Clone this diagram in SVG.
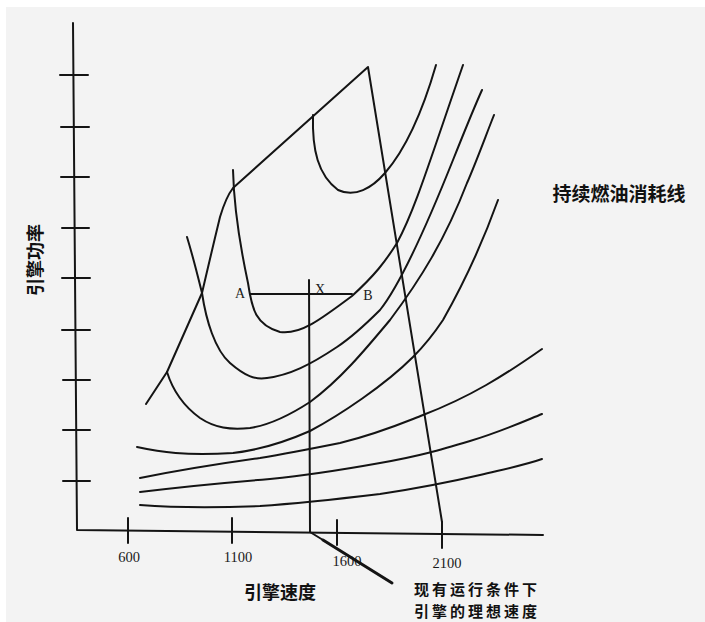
<svg xmlns="http://www.w3.org/2000/svg" width="705" height="622" viewBox="0 0 705 622">
<style>
.ln{fill:none;stroke:#141414;stroke-width:2;stroke-linecap:round;stroke-linejoin:round}
.num{font-family:"Liberation Serif",serif;font-size:14.5px;fill:#1a1a1a;text-anchor:middle}
.lt{font-family:"Liberation Serif",serif;font-size:14px;fill:#1a1a1a;text-anchor:middle}
.cn{font-family:"Noto Sans CJK SC","Noto Sans",sans-serif;font-size:18px;fill:#111;font-weight:bold;text-anchor:middle}
.cs{font-family:"Noto Sans CJK SC","Noto Sans",sans-serif;font-size:15px;letter-spacing:3px;fill:#111;font-weight:bold}
</style>
<rect width="705" height="622" fill="#ffffff"/>
<rect x="6" y="7" width="699" height="615" fill="#f3f3f3"/>
<g id="axes">
<path class="ln" d="M73,23 L77,530 L543,535"/>
<path class="ln" d="M60,75H88 M61,127H89 M61,177H89 M62,228H89 M62,278H90 M62,330H90 M63,380H90 M63,430H90 M63,481H90"/>
<path class="ln" d="M128,518V543 M232,518V543 M337,520V545 M442,522V548"/>
<text class="num" x="129" y="562">600</text>
<text class="num" x="238" y="562">1100</text>
<text class="num" x="347" y="566">1600</text>
<text class="num" x="447" y="568">2100</text>
<text class="cn" x="280" y="599">引擎速度</text>
<text class="cn" transform="translate(42,260) rotate(-90)">引擎功率</text>
</g>
<g id="connectors">
<path class="ln" d="M146,404 L167,372 L202,293 Q212,250 220,217 Q226,197 233,188 L368,67 L442,522"/>
<path class="ln" d="M313,115 C312,150 318,175 338,190 C355,198 372,188 385,173 C405,150 423,110 436,65"/>
<path class="ln" d="M233,170 C234,210 242,255 248,283 C252,310 256,325 280,332 C300,335 320,320 352,296 C375,275 385,262 397,243 C415,210 430,160 463,65"/>
<path class="ln" d="M187,237 C194,260 200,285 202,293 C206,320 215,350 230,363 C245,376 255,380 267,378 C290,375 310,365 337,347 C355,335 370,320 380,310 C400,285 425,230 453,160 C463,135 473,110 482,90"/>
<path class="ln" d="M167,372 C172,388 182,405 200,418 C215,428 230,430 250,428 C270,425 290,415 310,402 C340,380 365,350 390,320 C420,280 445,240 467,183 C477,160 486,135 494,115"/>
<path class="ln" d="M137,447 C160,452 185,456 233,453 C260,450 285,442 310,431 C340,415 385,385 413,357 C425,345 435,332 443,320 C460,290 480,250 498,200"/>
<path class="ln" d="M140,478 C180,470 210,465 260,458 C290,453 310,449 340,443 C380,433 400,424 423,415 C470,397 505,375 542,349"/>
<path class="ln" d="M140,492 C180,487 220,483 270,479 C300,476 330,472 380,463 C420,456 440,450 470,441 C500,432 520,423 542,414"/>
<path class="ln" d="M140,505 C180,508 210,508 260,506 C290,504 330,500 380,494 C420,488 450,482 480,475 C505,469 525,465 542,459"/>
<path class="ln" d="M250,294 H352"/>
<path class="ln" d="M309,280 L310,532 L323,540"/>
<path fill="none" stroke="#141414" stroke-width="3" stroke-linecap="round" d="M323,540 L392,583"/>
<text class="lt" x="240" y="298">A</text>
<text class="lt" x="320" y="294">X</text>
<text class="lt" x="368" y="300">B</text>
</g>
<g id="labels">
<text class="cn" x="619" y="201" style="font-size:19px">持续燃油消耗线</text>
<text class="cs" x="414" y="595">现有运行条件下</text>
<text class="cs" x="414" y="617">引擎的理想速度</text>
</g>
</svg>
